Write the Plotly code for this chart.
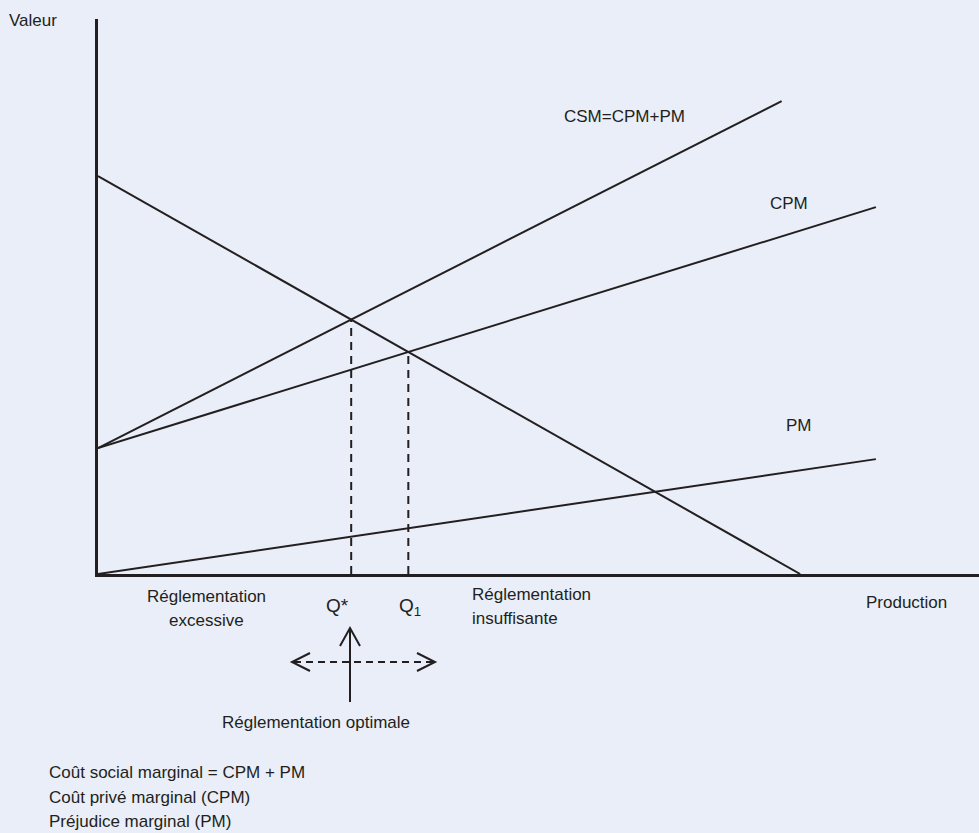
import numpy as np
import plotly.graph_objects as go

# ---- data ----
demande_x = [0.0, 79.7]
demande_y = [71.7, 0.0]
csm_x = [0.0, 77.6]
csm_y = [22.7, 85.2]
cpm_x = [0.0, 88.3]
cpm_y = [22.7, 66.1]
pm_x = [0.0, 88.3]
pm_y = [0.0, 20.7]

curve_labels = ["CSM=CPM+PM", "CPM", "PM"]
axis_labels = ["Valeur", "Production"]
legend_lines = ["Coût social marginal = CPM + PM",
                "Coût privé marginal (CPM)",
                "Préjudice marginal (PM)"]

INK = "#231f20"
BG = "#e9eef8"
FONT = "Liberation Sans"

def line_coef(xs, ys):
    m = (ys[1] - ys[0]) / (xs[1] - xs[0])
    return m, ys[0] - m * xs[0]

def intersect(a, b):
    m1, c1 = a
    m2, c2 = b
    q = (c2 - c1) / (m1 - m2)
    return q, m1 * q + c1

dem = line_coef(demande_x, demande_y)
q_star, p_star = intersect(dem, line_coef(csm_x, csm_y))
q_one, p_one = intersect(dem, line_coef(cpm_x, cpm_y))

# ---- layout geometry (pixels) ----
W, H = 979, 833
L, R, T, B = 98, 0, 19, 259
PW, PH = W - L - R, H - T - B

def px(x):
    return (x - L) / PW

def py(y):
    return (H - B - y) / PH

fig = go.Figure()
line_style = dict(color=INK, width=2)
for xs, ys in [(demande_x, demande_y), (csm_x, csm_y), (cpm_x, cpm_y), (pm_x, pm_y)]:
    fig.add_trace(go.Scatter(x=xs, y=ys, mode="lines", line=line_style,
                             hoverinfo="skip", showlegend=False, cliponaxis=False))

for q, p in [(q_star, p_star), (q_one, p_one)]:
    fig.add_trace(go.Scatter(x=[q, q], y=[0, p], mode="lines",
                             line=dict(color=INK, width=2, dash="8px,6px"),
                             hoverinfo="skip", showlegend=False))

shapes = []
# vertical arrow (optimal)
ax_x = 350
shapes.append(dict(type="line", xref="paper", yref="paper",
                   x0=px(ax_x), y0=py(702), x1=px(ax_x), y1=py(628),
                   line=dict(color=INK, width=2)))
shapes.append(dict(type="path", xref="paper", yref="paper",
                   path=f"M {px(ax_x-10)} {py(646)} L {px(ax_x)} {py(628)} L {px(ax_x+10)} {py(646)}",
                   line=dict(color=INK, width=2)))
# horizontal dashed double arrow
hy = 662
shapes.append(dict(type="line", xref="paper", yref="paper",
                   x0=px(294), y0=py(hy), x1=px(433), y1=py(hy),
                   line=dict(color=INK, width=2, dash="7px,5px")))
shapes.append(dict(type="path", xref="paper", yref="paper",
                   path=f"M {px(310)} {py(653)} L {px(292)} {py(hy)} L {px(310)} {py(671)}",
                   line=dict(color=INK, width=2)))
shapes.append(dict(type="path", xref="paper", yref="paper",
                   path=f"M {px(417)} {py(653)} L {px(435)} {py(hy)} L {px(417)} {py(671)}",
                   line=dict(color=INK, width=2)))

ann = []
def text(x, y, s, size=17, xanchor="center", align="center"):
    ann.append(dict(xref="paper", yref="paper", x=px(x), y=py(y), text=s,
                    showarrow=False, xanchor=xanchor, yanchor="middle", align=align,
                    font=dict(family=FONT, size=size, color=INK)))

text(7, 21, axis_labels[0], xanchor="left")
text(906, 602, axis_labels[1])
text(624, 116, curve_labels[0])
text(789, 203, curve_labels[1])
text(799, 425, curve_labels[2])
text(337, 605, "Q*", size=19)
text(410, 607, "Q<sub>1</sub>", size=19)
text(206, 596, "Réglementation")
text(206, 620, "excessive")
text(470, 594, "Réglementation", xanchor="left")
text(470, 618, "insuffisante", xanchor="left")
text(316, 722, "Réglementation optimale")
for i, s in enumerate(legend_lines):
    text(47, 773 + 24.5 * i, s, xanchor="left")

axis_common = dict(showgrid=False, zeroline=False, showticklabels=False, ticks="",
                   showline=True, linecolor=INK, linewidth=3, fixedrange=True)
fig.update_layout(
    width=W, height=H, autosize=False,
    margin=dict(l=L, r=R, t=T, b=B, pad=0),
    paper_bgcolor=BG, plot_bgcolor=BG,
    xaxis=dict(range=[0, 100], **axis_common),
    yaxis=dict(range=[0, 100], **axis_common),
    shapes=shapes, annotations=ann,
    font=dict(family=FONT, color=INK),
)

fig.write_html("out.html", config={"displayModeBar": False},
               post_script="document.body.style.margin='0';document.body.style.overflow='hidden';")
